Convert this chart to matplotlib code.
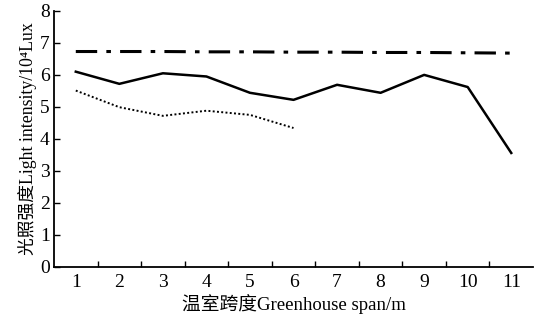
import matplotlib
matplotlib.use("Agg")
import matplotlib.pyplot as plt
import numpy as np

span = [1, 2, 3, 4, 5, 6, 7, 8, 9, 10, 11]
solid_vals = [6.1, 5.72, 6.05, 5.95, 5.44, 5.22, 5.69, 5.44, 6.0, 5.62, 3.56]
dashdot_vals = [6.73, 6.73, 6.73, 6.72, 6.72, 6.71, 6.71, 6.70, 6.70, 6.69, 6.68]
dotted_span = [1, 2, 3, 4, 5, 6]
dotted_vals = [5.51, 4.99, 4.72, 4.88, 4.75, 4.34]

xticklabels = [str(v) for v in span]
yticks = [0, 1, 2, 3, 4, 5, 6, 7, 8]

plt.rcParams['font.family'] = ['Liberation Serif', 'Noto Sans CJK SC']

fig = plt.figure(figsize=(5.37, 3.2), dpi=100)
ax = fig.add_axes([0.1006, 0.166, 0.892, 0.800])

ax.plot(span, dashdot_vals, color='black', lw=2.2, dashes=(7, 3, 1.5, 3))
ax.plot(span, solid_vals, color='black', lw=1.8)
ax.plot(dotted_span, dotted_vals, color='black', lw=1.4, dashes=(1, 1.2))

ax.set_xlim(0.5, 11.5)
ax.set_ylim(0, 8)

ax.set_xticks(np.arange(1.5, 11, 1.0))
ax.set_xticklabels([])
ax.set_xticks(span, minor=True)
ax.set_xticklabels(xticklabels, minor=True, fontsize=14)
ax.tick_params(axis='x', which='major', direction='in', length=4, width=1)
ax.tick_params(axis='x', which='minor', length=0, pad=5)

ax.set_yticks(yticks)
ax.set_yticklabels([str(v) for v in yticks], fontsize=14)
ax.tick_params(axis='y', direction='in', length=4, width=1, pad=3)

for s in ['top', 'right']:
    ax.spines[s].set_visible(False)
for s in ['left', 'bottom']:
    ax.spines[s].set_linewidth(1.3)

ax.set_xlabel('温室跨度Greenhouse span/m', fontsize=13.5, labelpad=2)
ax.set_ylabel('光照强度Light intensity/10⁴Lux', fontsize=12.8, labelpad=2)

fig.savefig('out.png', dpi=100)
